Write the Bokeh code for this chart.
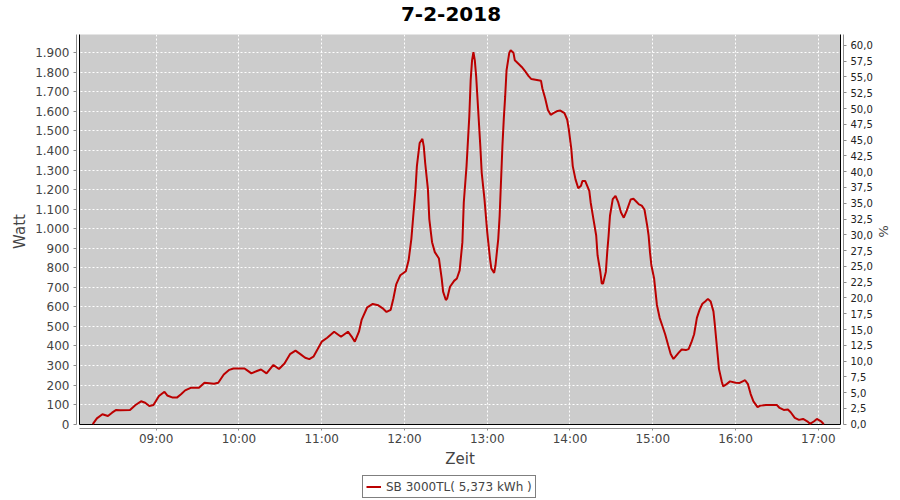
import pandas as pd
from bokeh.plotting import figure
from bokeh.layouts import column
from bokeh.models import (Range1d, LinearAxis, FixedTicker, CustomJSTickFormatter,
                          DatetimeTickFormatter, Legend, LegendItem, Label, BoxAnnotation)
from bokeh.embed import file_html
from bokeh.resources import INLINE

# ---------------- data ----------------
chart_title = "7-2-2018"
day = "2018-02-07"
series_label = "SB 3000TL( 5,373 kWh )"
y_label = "Watt"
y2_label = "%"
x_label = "Zeit"

times = [
    "08:14", "08:17", "08:21", "08:25", "08:28", "08:31", "08:34", "08:41", "08:45", "08:49",
    "08:52", "08:55", "08:58", "09:02", "09:06", "09:08", "09:12", "09:15", "09:18", "09:21",
    "09:25", "09:31", "09:35", "09:42", "09:45", "09:49", "09:53", "09:56", "10:04", "10:06",
    "10:09", "10:13", "10:16", "10:20", "10:25", "10:29", "10:33", "10:37", "10:41", "10:45",
    "10:48", "10:51", "10:54", "10:57", "11:00", "11:04", "11:09", "11:14", "11:19", "11:22",
    "11:24", "11:27", "11:29", "11:33", "11:37", "11:41", "11:44", "11:47", "11:50", "11:52",
    "11:54", "11:57", "12:01", "12:03", "12:05", "12:06", "12:08", "12:09", "12:11", "12:13",
    "12:14", "12:15", "12:17", "12:18", "12:20", "12:22", "12:25", "12:26", "12:27", "12:28",
    "12:30", "12:31", "12:33", "12:36", "12:38", "12:40", "12:42", "12:43", "12:45", "12:47",
    "12:48", "12:49", "12:50", "12:51", "12:52", "12:53", "12:55", "12:56", "12:58", "13:00",
    "13:02", "13:03", "13:05", "13:06", "13:08", "13:09", "13:11", "13:12", "13:13", "13:14",
    "13:16", "13:17", "13:19", "13:20", "13:23", "13:25", "13:28", "13:30", "13:32", "13:36",
    "13:39", "13:40", "13:42", "13:44", "13:46", "13:48", "13:51", "13:53", "13:56", "13:58",
    "13:59", "14:01", "14:02", "14:04", "14:06", "14:08", "14:09", "14:11", "14:14", "14:15",
    "14:17", "14:19", "14:20", "14:22", "14:23", "14:24", "14:26", "14:27", "14:28", "14:29",
    "14:31", "14:33", "14:35", "14:37", "14:39", "14:41", "14:44", "14:46", "14:48", "14:50",
    "14:52", "14:54", "14:56", "14:57", "14:58", "14:59", "15:01", "15:02", "15:03", "15:05",
    "15:07", "15:09", "15:11", "15:13", "15:15", "15:16", "15:19", "15:21", "15:24", "15:26",
    "15:28", "15:30", "15:32", "15:34", "15:36", "15:38", "15:40", "15:42", "15:44", "15:45",
    "15:47", "15:48", "15:50", "15:51", "15:53", "15:56", "16:00", "16:03", "16:07", "16:09",
    "16:11", "16:13", "16:16", "16:18", "16:22", "16:26", "16:30", "16:32", "16:35", "16:38",
    "16:40", "16:43", "16:46", "16:49", "16:52", "16:54", "16:57", "16:59", "17:02", "17:04",
]
watts = [
    0, 30, 51, 42, 59, 73, 71, 73, 98, 117,
    110, 93, 98, 144, 166, 147, 136, 136, 153, 173,
    186, 186, 212, 207, 212, 254, 278, 285, 285, 275,
    260, 272, 280, 260, 303, 282, 310, 358, 376, 356,
    340, 333, 345, 383, 422, 442, 473, 447, 473, 445,
    422, 473, 535, 598, 615, 608, 594, 574, 585, 644,
    715, 762, 782, 838, 948, 1033, 1202, 1320, 1438, 1459,
    1421, 1337, 1202, 1049, 931, 880, 847, 796, 745, 678,
    635, 644, 703, 733, 745, 787, 931, 1134, 1320, 1574,
    1760, 1861, 1903, 1861, 1777, 1658, 1421, 1286, 1151, 982,
    847, 796, 774, 813, 948, 1066, 1420, 1560, 1675, 1810,
    1900, 1912, 1900, 1861, 1841, 1827, 1800, 1780, 1765, 1760,
    1756, 1717, 1667, 1607, 1582, 1591, 1602, 1604, 1591, 1557,
    1515, 1405, 1320, 1252, 1207, 1219, 1244, 1244, 1193, 1134,
    1049, 965, 863, 779, 720, 720, 779, 880, 965, 1066,
    1151, 1168, 1134, 1083, 1056, 1090, 1149, 1153, 1139, 1124,
    1118, 1098, 1014, 964, 880, 813, 745, 678, 611, 544,
    502, 460, 409, 359, 334, 342, 367, 382, 379, 384,
    418, 460, 544, 586, 616, 628, 641, 628, 577, 510,
    359, 283, 220, 194, 202, 219, 212, 211, 225, 205,
    154, 117, 87, 95, 98, 98, 98, 83, 73, 75,
    61, 32, 22, 27, 15, 2, 15, 27, 15, 0,
]

hour_ticks = ["09:00", "10:00", "11:00", "12:00", "13:00", "14:00", "15:00", "16:00", "17:00"]
watt_ticks = [0, 100, 200, 300, 400, 500, 600, 700, 800, 900, 1000,
              1100, 1200, 1300, 1400, 1500, 1600, 1700, 1800, 1900]
pct_ticks = [0.0, 2.5, 5.0, 7.5, 10.0, 12.5, 15.0, 17.5, 20.0, 22.5, 25.0, 27.5, 30.0,
             32.5, 35.0, 37.5, 40.0, 42.5, 45.0, 47.5, 50.0, 52.5, 55.0, 57.5, 60.0]

# axis extents: inner plot area and the slightly larger frame carrying the offset axes
x_inner = ("08:04:24", "17:16:12")
x_outer = ("08:02:13", "17:18:18")
y_inner = (0, 1993)
y_outer = (-22, 1993)
pct_inner = (0, 61.73)
pct_outer = (-0.68, 61.73)

# ---------------- main figure ----------------
x = pd.to_datetime([f"{day} {t}" for t in times])
tick_ms = [int(pd.Timestamp(f"{day} {t}").value // 10**6) for t in hour_ticks]
ts = lambda s: pd.Timestamp(f"{day} {s}")
xr = Range1d(ts(x_outer[0]), ts(x_outer[1]))

FONT = "DejaVu Sans"
GRAY_TXT = "#444444"
AXIS_GRAY = "#8c8c8c"
RED = "#bb0000"

FRAME_W, FRAME_H = 767, 397   # frame incl. 3-4px axis offset
p = figure(width=900, height=445, x_axis_type="datetime",
           output_backend="svg", toolbar_location=None,
           x_range=xr, y_range=Range1d(*y_outer),
           min_border_left=76, min_border_right=57, min_border_top=9, min_border_bottom=39)
p.title = None
p.extra_y_ranges = {"pct": Range1d(*pct_outer)}

p.background_fill_color = "white"
p.border_fill_color = "white"
p.outline_line_color = None

# grey plot area, inset from the axes
box_kw = dict(left=3, right=FRAME_W - 3, bottom=4, top=FRAME_H,
              left_units="screen", right_units="screen",
              bottom_units="screen", top_units="screen")
p.add_layout(BoxAnnotation(**box_kw, fill_color="#cccccc", fill_alpha=1.0,
                           line_color=None, level="image"))

line = p.line(x, watts, line_color=RED, line_width=2)

# x axis
xt = FixedTicker(ticks=tick_ms)
xa = p.xaxis[0]
xa.ticker = xt
xa.bounds = (ts(x_inner[0]), ts(x_inner[1]))
xa.formatter = DatetimeTickFormatter(hours="%H:%M", hourmin="%H:%M", minutes="%H:%M",
                                     minsec="%H:%M", days="%H:%M")
p.xgrid[0].ticker = xt

# left axis
yt = FixedTicker(ticks=watt_ticks)
ya = p.yaxis[0]
ya.ticker = yt
ya.bounds = y_inner
ya.formatter = CustomJSTickFormatter(code="""
  if (tick >= 1000) { return Math.floor(tick/1000) + '.' + String(tick % 1000).padStart(3, '0'); }
  return String(tick);
""")
p.ygrid[0].ticker = yt

# right axis
ra = LinearAxis(y_range_name="pct", ticker=FixedTicker(ticks=pct_ticks), bounds=pct_inner,
                formatter=CustomJSTickFormatter(code="return tick.toFixed(1).replace('.', ',');"),
                axis_label=y2_label)
p.add_layout(ra, "right")

for ax in (xa, ya, ra):
    ax.axis_line_color = AXIS_GRAY
    ax.axis_line_width = 1
    ax.major_tick_line_color = AXIS_GRAY
    ax.major_tick_in = 0
    ax.minor_tick_line_color = None
    ax.major_label_text_font = FONT
    ax.major_label_text_color = GRAY_TXT
    ax.major_label_text_font_size = "12px"
    ax.axis_label_text_font = FONT
    ax.axis_label_text_color = GRAY_TXT
    ax.axis_label_text_font_size = "15px"
    ax.axis_label_text_font_style = "normal"

xa.axis_label = x_label
xa.major_tick_out = 2
xa.major_label_standoff = 1
xa.axis_label_standoff = 1

ya.axis_label = y_label
ya.major_tick_out = 3
ya.major_label_standoff = 4
ya.axis_label_standoff = 3

ra.major_tick_out = 3
ra.major_label_standoff = 4
ra.major_label_text_font_size = "10px"
ra.major_label_text_color = "#222222"
ra.axis_label_standoff = 0
ra.axis_label_text_font_size = "13px"

for g in (p.xgrid[0], p.ygrid[0]):
    g.grid_line_color = "white"
    g.grid_line_dash = "2 2"
    g.grid_line_width = 1
    g.grid_line_alpha = 1.0

# black border of the plot area, drawn above the grid, below the series
p.add_layout(BoxAnnotation(**box_kw, fill_color=None, fill_alpha=0,
                           line_color="black", line_width=1, line_alpha=1.0,
                           level="underlay"))

# ---------------- title strip ----------------
tt = figure(width=900, height=25, output_backend="svg", toolbar_location=None,
            x_axis_location=None, y_axis_location=None, min_border=0,
            x_range=xr, y_range=Range1d(*y_inner))
tt.grid.visible = False
tt.outline_line_color = None
tt.background_fill_color = "white"
tt.border_fill_color = "white"
tt.add_layout(Label(x=374.5, y=12, x_units="screen", y_units="screen", text=chart_title,
                    text_align="center", text_baseline="alphabetic", text_font=FONT,
                    text_font_size="20px", text_font_style="bold", text_color="black"))

# ---------------- legend strip ----------------
lg = figure(width=900, height=30, output_backend="svg", toolbar_location=None,
            x_axis_location=None, y_axis_location=None, min_border=0,
            x_range=xr, y_range=Range1d(y_inner[1] * 3, y_inner[1] * 4))
lg.grid.visible = False
lg.outline_line_color = None
lg.background_fill_color = "white"
lg.border_fill_color = "white"
lg_line = lg.line(x, watts, line_color=RED, line_width=2)

legend = Legend(items=[LegendItem(label=series_label, renderers=[lg_line])],
                location=(286, 2), orientation="horizontal",
                border_line_color="black", border_line_width=1,
                background_fill_color="white", background_fill_alpha=1.0,
                padding=3, margin=0, spacing=0, label_standoff=5,
                glyph_width=15, glyph_height=15, label_height=15,
                label_text_font=FONT, label_text_font_size="12px",
                label_text_color=GRAY_TXT)
lg.add_layout(legend)

layout = column(tt, p, lg, spacing=0)
open("out.html", "w").write(file_html(layout, INLINE))
